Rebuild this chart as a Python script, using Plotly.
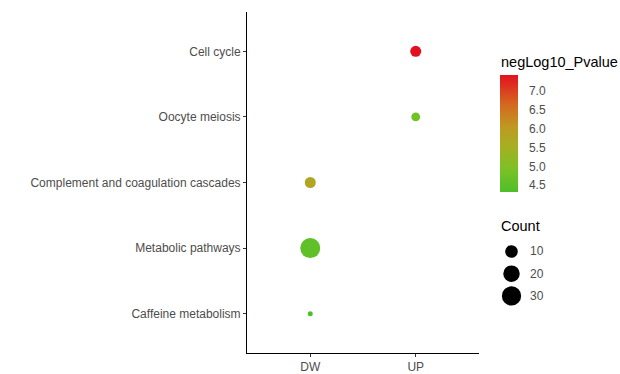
import numpy as np
import plotly.graph_objects as go

# KEGG pathway enrichment: pathway, regulation group, gene count, -log10(p)
pathways = ["Cell cycle", "Oocyte meiosis", "Complement and coagulation cascades",
            "Metabolic pathways", "Caffeine metabolism"]
groups = ["UP", "UP", "DW", "DW", "DW"]
counts = [7, 4, 7, 33, 2]
neglog10_p = [7.44, 4.80, 5.75, 4.58, 4.33]

category_order = ["Caffeine metabolism", "Metabolic pathways",
                  "Complement and coagulation cascades", "Oocyte meiosis", "Cell cycle"]
group_order = ["DW", "UP"]
count_legend = [10, 20, 30]
pvalue_ticks = [4.5, 5.0, 5.5, 6.0, 6.5, 7.0]

# point area scaling (diameter in px, sqrt of count rescaled)
cnt_min, cnt_max = min(counts), max(counts)


def size_of(c):
    return 5 + 15 * np.sqrt(max(c - cnt_min, 0) / (cnt_max - cnt_min))


colorscale = [
    [0.00, "#4DBF2A"],
    [0.20, "#7DC126"],
    [0.40, "#A8AE22"],
    [0.55, "#BE9A22"],
    [0.75, "#D4681F"],
    [1.00, "#E3111F"],
]

W, H = 620, 374
L, R, T, B = 247, 0, 12, 17
plot_w = W - L - R
plot_h = H - T - B
main_right_px = 479

FONT = "Liberation Sans, Arial, Helvetica"


def px_x(px):
    return (px - L) / plot_w


def px_y(py):
    return (H - B - py) / plot_h


# colour bar geometry
cb_left, cb_thick = 500, 18
cb_top, cb_bottom = 76, 193
cmin, cmax = min(neglog10_p), max(neglog10_p)

fig = go.Figure()

fig.add_trace(go.Scatter(
    x=groups, y=pathways, mode="markers",
    marker=dict(
        size=[size_of(c) for c in counts],
        color=neglog10_p,
        colorscale=colorscale,
        cmin=cmin, cmax=cmax,
        line=dict(width=0),
        opacity=1,
        colorbar=dict(
            x=px_x(cb_left), xanchor="left",
            y=px_y((cb_top + cb_bottom) / 2), yanchor="middle",
            len=cb_bottom - cb_top, lenmode="pixels",
            thickness=cb_thick, thicknessmode="pixels",
            outlinewidth=0,
            tickvals=pvalue_ticks,
            ticktext=[f"{v:.1f}" for v in pvalue_ticks],
            ticks="outside", ticklen=9, tickcolor="rgba(0,0,0,0)", tickwidth=1,
            tickfont=dict(family=FONT, size=12, color="#4D4D4D"),
            xpad=0, ypad=0,
        ),
    ),
    showlegend=False,
    hoverinfo="skip",
))

# size legend keys
fig.add_trace(go.Scatter(
    x=[0.5] * len(count_legend), y=list(range(len(count_legend))),
    mode="markers",
    marker=dict(size=[size_of(c) for c in count_legend], color="#000000",
                opacity=1, line=dict(width=0)),
    xaxis="x2", yaxis="y2", showlegend=False, hoverinfo="skip",
))

annotations = [
    dict(text="negLog10_Pvalue", x=px_x(499), y=px_y(63), xref="paper", yref="paper",
         xanchor="left", yanchor="middle", showarrow=False,
         font=dict(family=FONT, size=14.5, color="black")),
    dict(text="Count", x=px_x(499), y=px_y(229), xref="paper", yref="paper",
         xanchor="left", yanchor="middle", showarrow=False,
         font=dict(family=FONT, size=14.5, color="black")),
]
for i, c in enumerate(count_legend):
    annotations.append(dict(
        text=str(c), x=1, y=i, xref="x2", yref="y2",
        xanchor="left", yanchor="middle", xshift=6, showarrow=False,
        font=dict(family=FONT, size=12, color="#4D4D4D")))

# white tick marks drawn across both edges of the colour bar
shapes = []
for v in pvalue_ticks:
    frac = (v - cmin) / (cmax - cmin)
    yy = px_y(cb_bottom) + frac * (px_y(cb_top) - px_y(cb_bottom))
    for x0, x1 in [(cb_left, cb_left + 3.5), (cb_left + cb_thick - 3.5, cb_left + cb_thick)]:
        shapes.append(dict(type="line", xref="paper", yref="paper",
                           x0=px_x(x0), x1=px_x(x1), y0=yy, y1=yy,
                           line=dict(color="white", width=1)))

axis_font = dict(family=FONT, size=12, color="#4D4D4D")

fig.update_layout(
    width=W, height=H,
    margin=dict(l=L, r=R, t=T, b=B, pad=0),
    paper_bgcolor="white", plot_bgcolor="white",
    xaxis=dict(
        domain=[0, px_x(main_right_px)],
        type="category", categoryorder="array", categoryarray=group_order,
        range=[-0.6, 1.6],
        showgrid=False, zeroline=False,
        showline=True, linecolor="black", linewidth=1,
        ticks="outside", ticklen=3, tickcolor="#333333", tickwidth=1,
        tickfont=axis_font,
    ),
    yaxis=dict(
        type="category", categoryorder="array", categoryarray=category_order,
        range=[-0.6, 4.6],
        showgrid=False, zeroline=False,
        showline=True, linecolor="black", linewidth=1,
        ticks="outside", ticklen=3, tickcolor="#333333", tickwidth=1,
        tickfont=axis_font,
    ),
    xaxis2=dict(
        domain=[px_x(501), px_x(522)], range=[0, 1], anchor="y2",
        visible=False, fixedrange=True,
    ),
    yaxis2=dict(
        domain=[px_y(310.5), px_y(243)], anchor="x2",
        range=[2.5, -0.5], visible=False, fixedrange=True,
    ),
    annotations=annotations,
    shapes=shapes,
)

fig.write_html("out.html")
